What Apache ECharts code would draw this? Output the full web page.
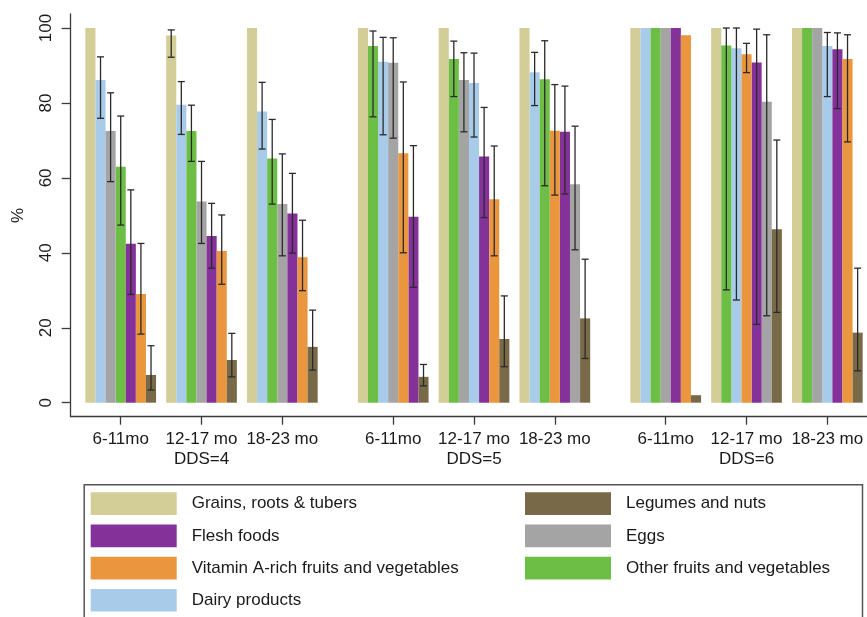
<!DOCTYPE html>
<html>
<head>
<meta charset="utf-8">
<script src="https://cdn.jsdelivr.net/npm/echarts@6/dist/echarts.min.js"></script>
<style>
  html, body { margin: 0; padding: 0; background: #fff; }
  #chart { width: 867px; height: 617px; }
</style>
</head>
<body>
<div id="chart"></div>
<script>
// Age bands within each dietary diversity score (DDS) panel
const ageGroups = ['6-11mo', '12-17 mo', '18-23 mo'];
const ddsLevels = ['DDS=4', 'DDS=5', 'DDS=6'];
const yTicks = [0, 20, 40, 60, 80, 100];

// Food group names (also the tie-break order when bars are ranked)
const foodGroups = [
  'Grains, roots & tubers',
  'Dairy products',
  'Other fruits and vegetables',
  'Eggs',
  'Flesh foods',
  'Vitamin A-rich fruits and vegetables',
  'Legumes and nuts'
];
const foodColors = ['#D3CD98', '#A8CBEA', '#6DBE45', '#A4A4A4', '#84329A', '#EA963E', '#786A48'];

// % consuming each food group, 9 panels: DDS4 (3 ages), DDS5 (3 ages), DDS6 (3 ages)
const grains      = [100, 98.0, 100, 100, 100, 100, 100, 100, 100];
const grainsLo    = [null, 92.2, null, null, null, null, null, null, null];
const grainsHi    = [null, 99.5, null, null, null, null, null, null, null];

const dairy       = [86.1, 79.5, 77.7, 91.0, 85.3, 88.2, 100, 94.6, 95.2];
const dairyLo     = [75.9, 71.6, 67.7, 71.5, 70.9, 79.3, null, 27.4, 81.7];
const dairyHi     = [92.3, 85.7, 85.5, 97.5, 93.3, 93.5, null, 100, 98.8];

const otherFV     = [63.0, 72.5, 65.2, 95.2, 91.7, 86.3, 100, 95.3, 100];
const otherFVLo   = [47.4, 64.4, 53.0, 76.3, 81.7, 57.9, null, 30.1, null];
const otherFVHi   = [76.5, 79.4, 75.6, 99.2, 96.5, 96.6, null, 100, null];

const eggs        = [72.5, 53.7, 53.0, 90.7, 86.1, 58.3, 100, 80.3, 100];
const eggsLo      = [59.0, 42.5, 39.2, 70.6, 72.3, 40.8, null, 23.2, null];
const eggsHi      = [82.7, 64.4, 66.4, 97.4, 93.4, 73.8, null, 98.2, null];

const flesh       = [42.4, 44.5, 50.5, 49.6, 65.7, 72.3, 100, 90.8, 94.3];
const fleshLo     = [28.9, 35.9, 39.9, 30.8, 49.4, 55.7, null, 20.9, 78.5];
const fleshHi     = [56.8, 53.2, 61.2, 68.6, 78.8, 84.5, null, 99.7, 98.7];

const vitA        = [29.0, 40.5, 38.8, 66.6, 54.3, 72.6, 98.1, 93.0, 91.7];
const vitALo      = [18.3, 31.6, 29.9, 40.0, 39.2, 55.4, null, 88.1, 69.6];
const vitAHi      = [42.5, 50.1, 48.7, 85.6, 68.5, 84.9, null, 95.9, 98.2];

const legumes     = [7.4, 11.4, 14.9, 6.9, 17.0, 22.5, 2.0, 46.3, 18.7];
const legumesLo   = [3.4, 6.9, 8.7, 4.5, 9.6, 11.8, null, 24.1, 8.5];
const legumesHi   = [15.2, 18.5, 24.7, 10.2, 28.5, 38.3, null, 70.1, 35.9];

const legendLeft  = ['Grains, roots & tubers', 'Flesh foods', 'Vitamin A-rich fruits and vegetables', 'Dairy products'];
const legendRight = ['Legumes and nuts', 'Eggs', 'Other fruits and vegetables'];

// ---- layout helpers ----
const values = [grains, dairy, otherFV, eggs, flesh, vitA, legumes];
const lows   = [grainsLo, dairyLo, otherFVLo, eggsLo, fleshLo, vitALo, legumesLo];
const highs  = [grainsHi, dairyHi, otherFVHi, eggsHi, fleshHi, vitAHi, legumesHi];

const PANEL_GAP = 0.3725;          // extra space between DDS blocks (in group units)
const BAR_W = 0.125;               // width of one bar (in group units)
const nPanels = ddsLevels.length * ageGroups.length;
const panelX = [];
for (let i = 0; i < nPanels; i++) {
  const c = Math.floor(i / ageGroups.length), g = i % ageGroups.length;
  panelX.push(c * (ageGroups.length + PANEL_GAP) + g);
}
const X_MIN = -0.619, X_MAX = 9.236;

// rank bars inside each panel: highest first, ties keep the food group order
const slots = values.map(() => []);
for (let p = 0; p < nPanels; p++) {
  const order = values.map((v, k) => k).sort((a, b) => (values[b][p] - values[a][p]) || (a - b));
  order.forEach((k, r) => { slots[k][p] = r; });
}

function panelLabel(v) {
  let best = 0;
  panelX.forEach((x, i) => { if (Math.abs(x - v) < Math.abs(panelX[best] - v)) best = i; });
  const g = best % ageGroups.length, c = Math.floor(best / ageGroups.length);
  return g === 1 ? ageGroups[g] + '\n' + ddsLevels[c] : ageGroups[g];
}

function renderBar(params, api) {
  const x = api.value(0), v = api.value(1), lo = api.value(2), hi = api.value(3), slot = api.value(4);
  const bw = api.size([BAR_W, 0])[0];
  const cx = api.coord([x + (slot - 3) * BAR_W, 0])[0];
  const y0 = api.coord([x, 0])[1];
  const yv = api.coord([x, v])[1];
  const children = [{
    type: 'rect',
    shape: { x: cx - bw / 2, y: yv, width: bw, height: y0 - yv },
    style: api.style()
  }];
  if (Number.isFinite(lo) && Number.isFinite(hi)) {
    const yl = api.coord([x, lo])[1], yh = api.coord([x, hi])[1];
    const cap = 3.5;
    const ls = { stroke: '#2a2a2a', lineWidth: 1.3 };
    children.push({ type: 'line', shape: { x1: cx, y1: yl, x2: cx, y2: yh }, style: ls });
    children.push({ type: 'line', shape: { x1: cx - cap, y1: yh, x2: cx + cap, y2: yh }, style: ls });
    children.push({ type: 'line', shape: { x1: cx - cap, y1: yl, x2: cx + cap, y2: yl }, style: ls });
  }
  return { type: 'group', children };
}

const series = foodGroups.map((name, k) => ({
  type: 'custom',
  name,
  renderItem: renderBar,
  itemStyle: { color: foodColors[k] },
  encode: { x: 0, y: 1 },
  data: panelX.map((x, p) => [x, values[k][p],
    lows[k][p] == null ? NaN : lows[k][p],
    highs[k][p] == null ? NaN : highs[k][p],
    slots[k][p]])
}));

const FONT = "'Liberation Sans', Arial, Helvetica, sans-serif";
const axisColor = '#3a3a3a';
const textColor = '#1a1a1a';

const legendCommon = {
  orient: 'vertical',
  top: 492.3,
  padding: 0,
  icon: 'rect',
  itemWidth: 86,
  itemHeight: 22.7,
  itemGap: 9.5,
  selectedMode: false,
  textStyle: { fontSize: 17, color: textColor, fontFamily: FONT, padding: [0, 0, 0, 10] }
};

const chart = echarts.init(document.getElementById('chart'), null, { renderer: 'canvas' });
chart.setOption({
  animation: false,
  backgroundColor: '#ffffff',
  textStyle: { fontFamily: FONT },
  grid: { left: 70.7, right: 0, top: 14, bottom: 200.3 },
  xAxis: {
    type: 'value',
    min: X_MIN,
    max: X_MAX,
    splitLine: { show: false },
    axisLine: { onZero: false, lineStyle: { color: axisColor, width: 1.3 } },
    axisTick: { customValues: panelX, length: 8, lineStyle: { color: axisColor, width: 1.3 } },
    axisLabel: {
      customValues: panelX,
      formatter: panelLabel,
      fontSize: 17,
      lineHeight: 20,
      margin: 13,
      color: textColor,
      fontFamily: FONT
    }
  },
  yAxis: {
    type: 'value',
    min: -3.74,
    max: 103.74,
    name: '%',
    nameLocation: 'middle',
    nameRotate: 90,
    nameGap: 44,
    nameTextStyle: { fontSize: 17, color: textColor, fontFamily: FONT },
    splitLine: { show: false },
    axisLine: { show: true, onZero: false, lineStyle: { color: axisColor, width: 1.3 } },
    axisTick: { show: true, customValues: yTicks, length: 9, lineStyle: { color: axisColor, width: 1.3 } },
    axisLabel: {
      customValues: yTicks,
      rotate: 90,
      margin: 16,
      fontSize: 17,
      color: textColor,
      fontFamily: FONT
    }
  },
  legend: [
    Object.assign({}, legendCommon, { left: 90.7, data: legendLeft }),
    Object.assign({}, legendCommon, { left: 525, data: legendRight })
  ],
  graphic: [{
    type: 'rect',
    left: 81.7,
    top: 482.3,
    shape: { width: 778.3, height: 160 },
    style: { fill: 'none', stroke: '#555', lineWidth: 1.5 },
    silent: true,
    z: -1
  }],
  series
});
</script>
</body>
</html>
